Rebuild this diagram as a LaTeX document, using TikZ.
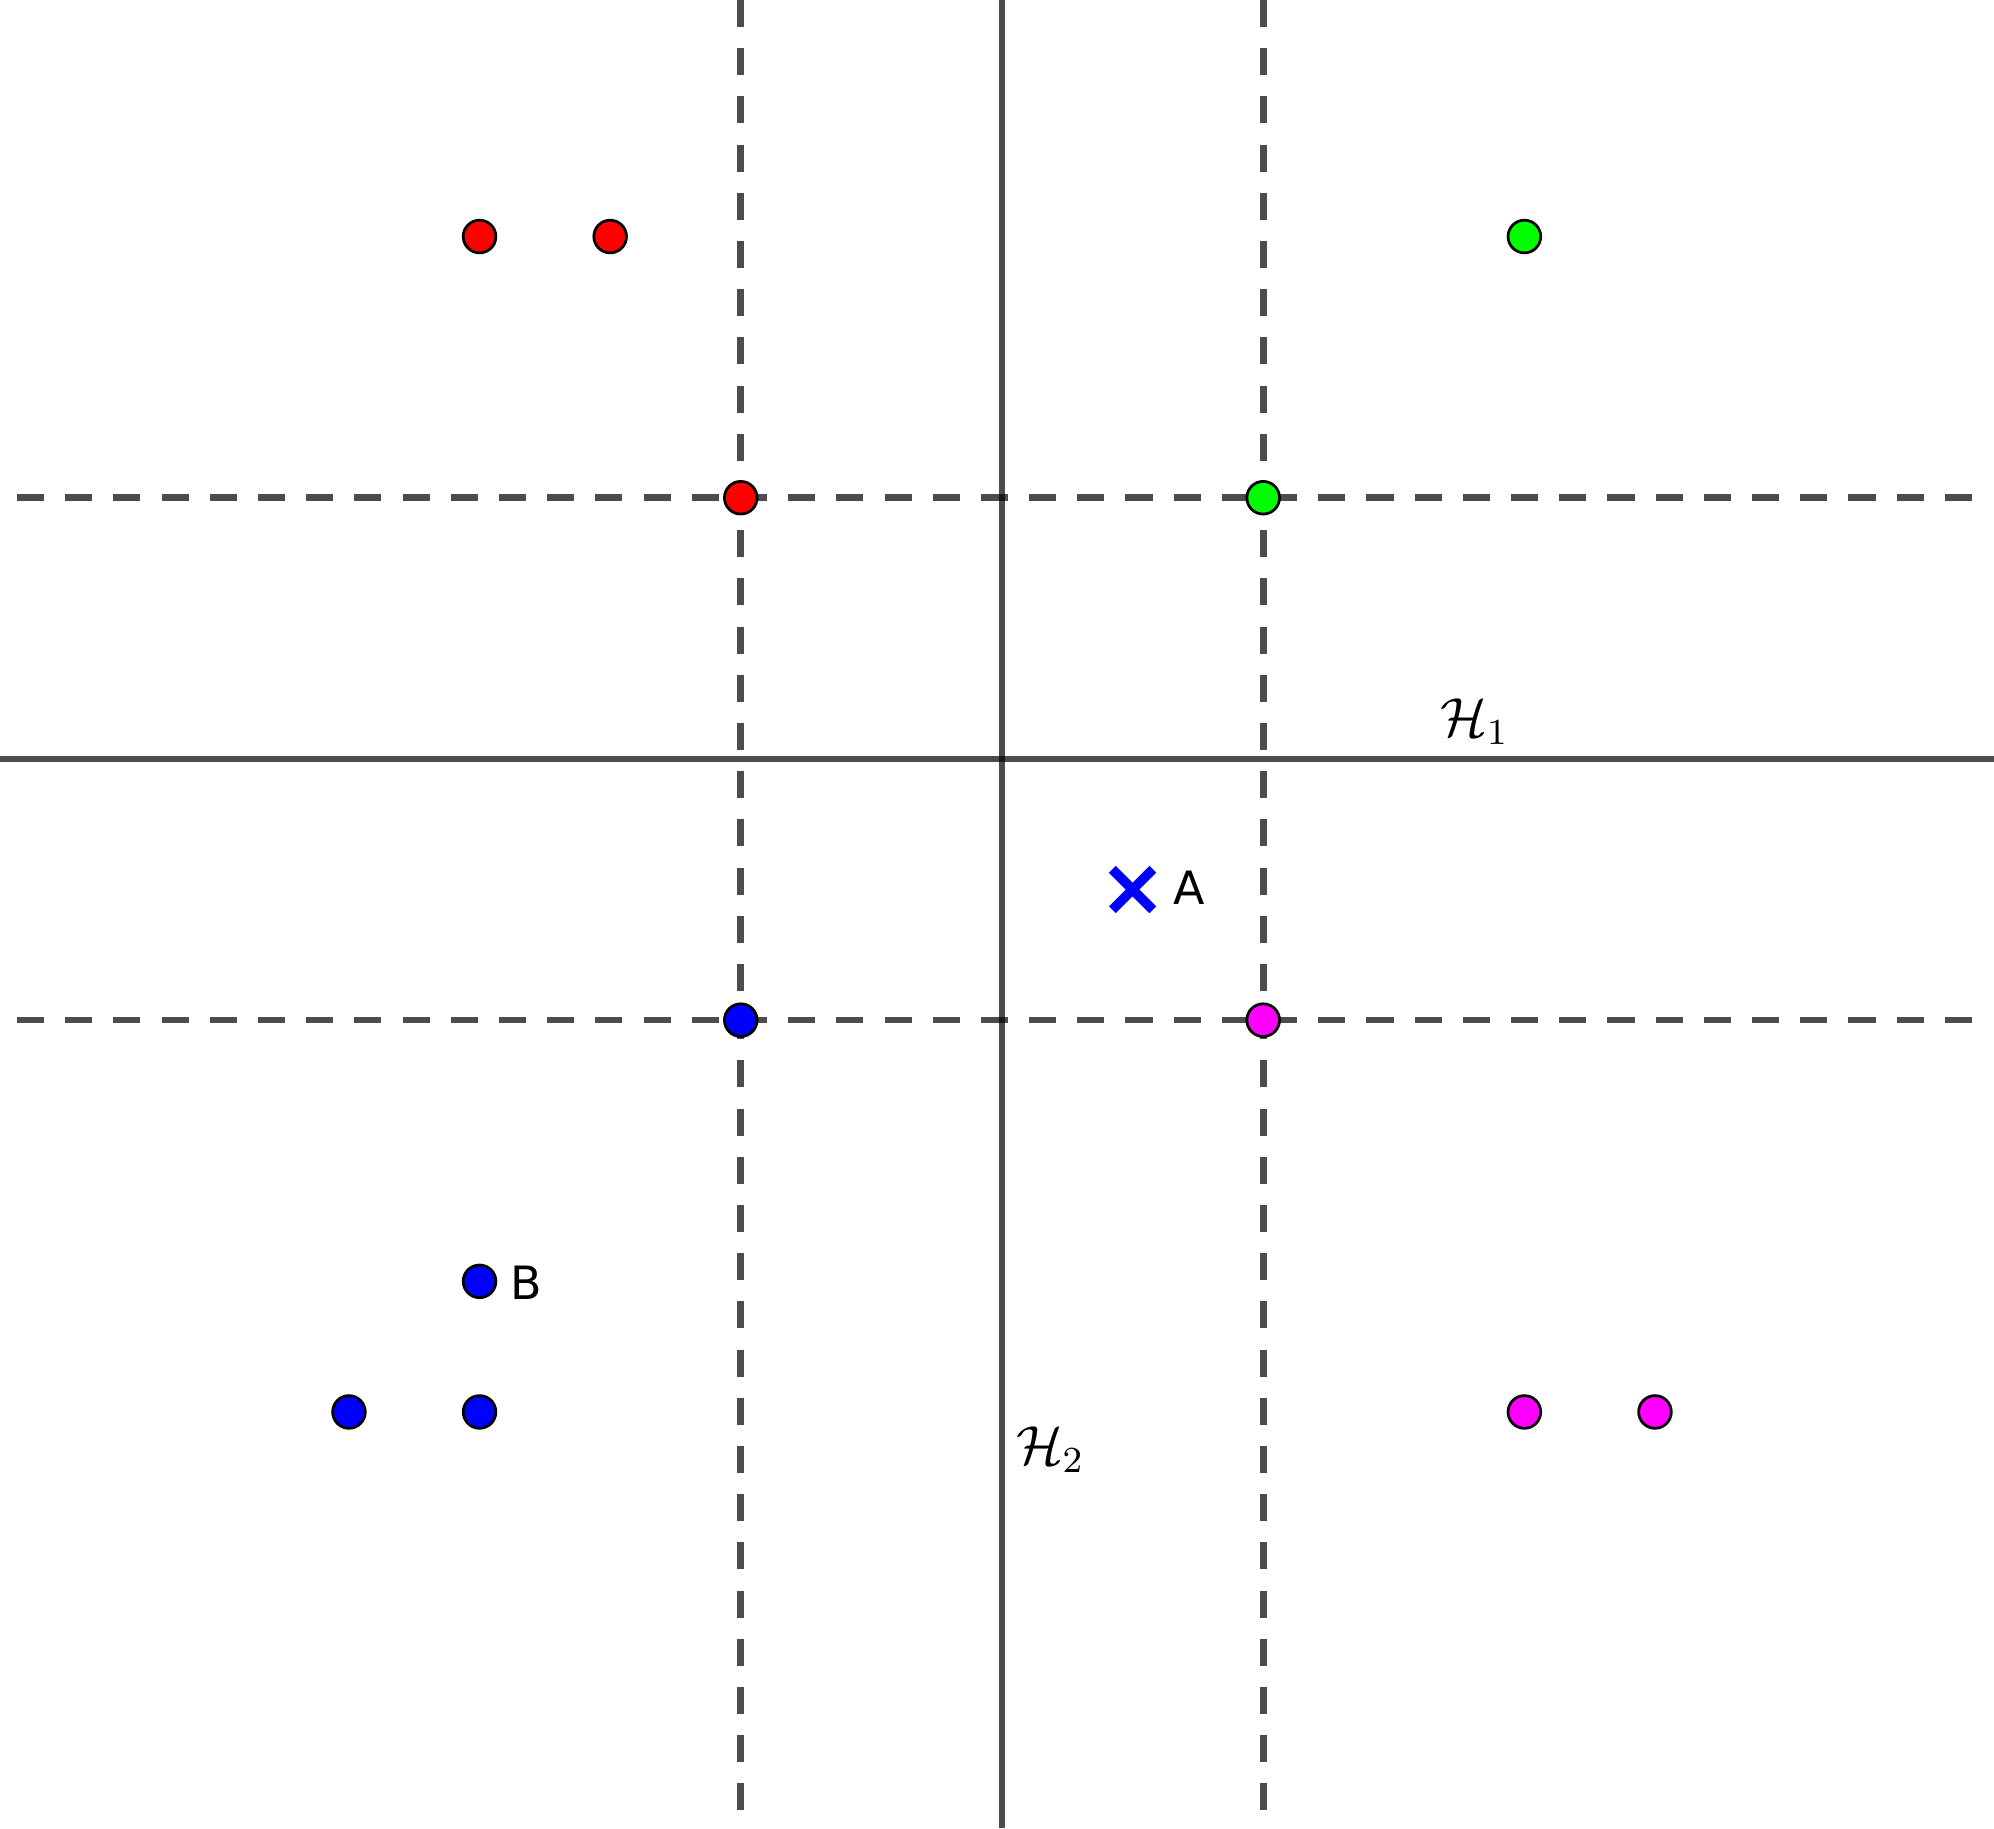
\documentclass[tikz,border=0pt]{standalone}
\usepackage{fontspec}
\newfontfamily\labelfont{DejaVu Sans}
\definecolor{ptred}{RGB}{255,0,0}
\definecolor{ptgreen}{RGB}{0,255,0}
\definecolor{ptblue}{RGB}{0,0,255}
\definecolor{ptmagenta}{RGB}{255,0,255}
\begin{document}
\begin{tikzpicture}[
  axisline/.style={draw=black, draw opacity=0.7, line width=1.45pt},
  gridline/.style={draw=black, draw opacity=0.7, line width=1.45pt, dash pattern=on 5.9pt off 4.6pt},
  pt/.style={circle, draw=black, line width=0.6pt, inner sep=0pt, minimum size=0.25cm},
  ptlabel/.style={font=\labelfont\fontsize{10}{11}\selectfont, inner sep=0pt},
  hlabel/.style={font=\fontsize{12}{14}\selectfont, inner sep=0pt}
]
\useasboundingbox (-7.672,-8.186) rectangle (7.596,5.811);
% solid hyperplanes
\draw[axisline] (-7.672,0) -- (7.596,0);
\draw[axisline] (0,-8.186) -- (0,5.811);
% dashed grid lines
\draw[gridline] (-7.542,2) -- (7.473,2);
\draw[gridline] (-7.542,-2) -- (7.473,-2);
\draw[gridline] (-2,5.811) -- (-2,-8.186);
\draw[gridline] (2,5.811) -- (2,-8.186);
% labels of hyperplanes
\node[hlabel] (h1) at (3.62,0.283) {$\mathcal{H}_1$};
\node[hlabel] (h2) at (0.37,-5.29) {$\mathcal{H}_2$};
% red points
\node[pt, fill=ptred] (r1) at (-4,4) {};
\node[pt, fill=ptred] (r2) at (-3,4) {};
\node[pt, fill=ptred] (r3) at (-2,2) {};
% green points
\node[pt, fill=ptgreen] (g1) at (4,4) {};
\node[pt, fill=ptgreen] (g2) at (2,2) {};
% blue points
\node[pt, fill=ptblue] (b1) at (-2,-2) {};
\node[pt, fill=ptblue] (bB) at (-4,-4) {};
\node[pt, fill=ptblue] (b3) at (-5,-5) {};
\node[pt, fill=ptblue] (b4) at (-4,-5) {};
% magenta points
\node[pt, fill=ptmagenta] (m1) at (2,-2) {};
\node[pt, fill=ptmagenta] (m2) at (4,-5) {};
\node[pt, fill=ptmagenta] (m3) at (5,-5) {};
% point A (cross)
\coordinate (A) at (1,-1);
\draw[ptblue, line width=2.1pt] ([shift={(-0.155,-0.155)}]A) -- ([shift={(0.155,0.155)}]A)
  ([shift={(-0.155,0.155)}]A) -- ([shift={(0.155,-0.155)}]A);
\node[ptlabel] (Alab) at (1.43,-0.99) {A};
\node[ptlabel] (Blab) at (-3.64,-4.01) {B};
\end{tikzpicture}
\end{document}
